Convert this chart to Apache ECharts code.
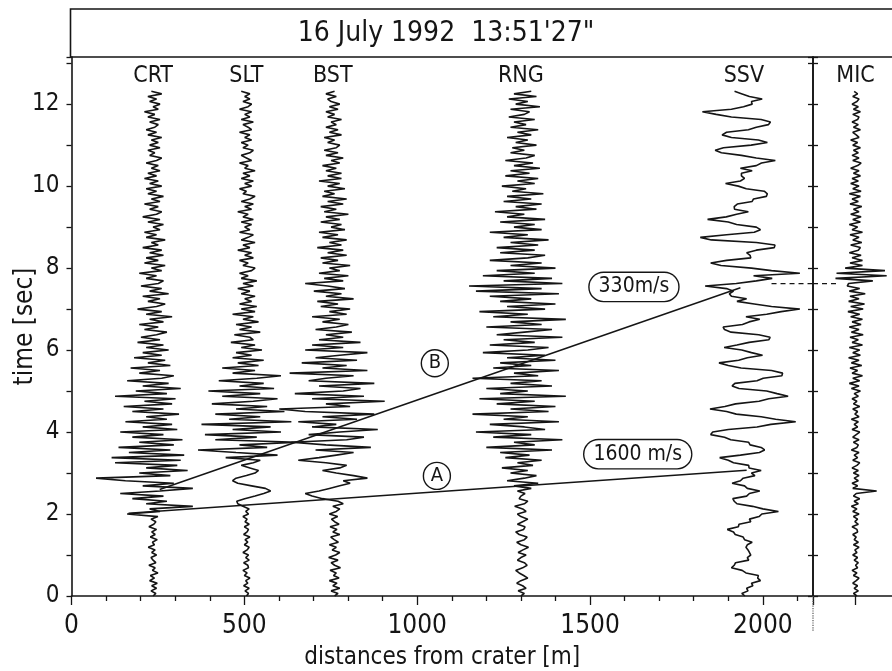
<!DOCTYPE html>
<html>
<head>
<meta charset="utf-8">
<script src="https://cdn.jsdelivr.net/npm/echarts@6/dist/echarts.min.js"></script>
<style>
  html, body { margin: 0; padding: 0; background: #ffffff; }
  #chart { width: 892px; height: 671px; }
</style>
</head>
<body>
<div id="chart"></div>
<script>
// Seismic traces of the 16 July 1992 explosion, plotted at each station's
// distance from the crater, with the microphone record in a side panel.

const SAMPLE_DT = 0.0625;            // seconds between samples
const TIME_MAX = 13.15;              // top of the time axis [s]
const MAIN_PANEL_MAX = 2145;         // right edge of the distance panel [m]
const MIC_PANEL_MAX = 2400;          // right edge of the microphone panel [m]

const stationNames = ['CRT', 'SLT', 'BST', 'RNG', 'SSV'];
const stationDistance = [236, 506, 756, 1300, 1945];   // m
const stationLabelTime = 12.69;

// Ground-velocity traces, horizontal offset from the station position [m]
const crtTrace = [
  0, 8, -6, 10, -4, 12, -10, 4, -8, 14, -2, 6, -12, 8, 0, -6, 10, -4, 6, -14, 4, -2, 12, -8, 6, -4, 10, -12, 2, 8, -6, 14,
  -75, 20, -10, 115, -20, 40, -60, 30, -95, 20, 115, -30, 60, -80, -165, 50, -40, 100, -20, 70, -110, 80, -120, 90,
  -70, 50, -100, 60, -40, 85, -60, 30, -95, 70, -30, 55, -80, 40, -20, 75, -60, 30, -85, 55, -25, 65, -110, 40,
  -50, 80, -30, 45, -75, 25, 60, -40, 20, -65, 50, -15, 35, -55, 25, -30, 45, -20, 30, -45,
  20, -35, 10, 40, -25, 15, -40, 30, -10, 55, -20, 25, -45, 10, 35, -15, 20, -30, 45, -10, 25, -35, 15, 30, -20, 10, -40, 25, -5, 35, -25, 15,
  -20, 30, -10, 25, -30, 15, -5, 35, -20, 10, -25, 20, 0, 30, -15, 20, -30, 10, 25, -10, 15, -25, 20, -5, 30, -15, 10, -20, 25, -10, 15, -25,
  10, -15, 20, -5, 15, -20, 10, 25, -10, 5, -15, 20, -10, 15, -5, 25, -15, 10, -20, 5, 15, -10, 20, -15, 5, -25, 15, 0, 20, -10, 10, -15, 25, -5
];
const sltTrace = [
  0, 6, -4, 8, -8, 4, -2, 10, -6, 2, -10, 6, 4, -8, 8, -2, 6, -10, 2, 8, -6, 4, -4, 10, -8, 2, 6, -6, 8, -4, 2, -10, 6, -2, 8,
  -10, -25, -28, -5, 25, 50, 70, 55, 15, -25, -40, -30, 0, 25, 35, 10, -15, 20,
  40, -60, 90, -30, -140, 60, -20, 150, -90, 30, -120, 100, -40, 70, -130, 130, -50, 40,
  -90, 110, -30, 60, -100, 20, 90, -70, 40, -110, 80, -20, 50, -80, 30, 100, -40, 25, -70,
  35, -25, 50, -40, 15, -30, 45, -15, 25, -45, 20, 10, -35, 40, -20, 15, -30, 35, -10, 20, -40, 25, -15, 30,
  -20, 15, -5, 25, -15, 10, -25, 20, -10, 30, -15, 5, -20, 15, 25, -10, 5, -20, 20, -5, 15, -25, 10, -10, 25, -15, 5, 20, -20, 10, -5, 15,
  -15, 20, -10, 5, -25, 15, -5, 20, -15, 10, 25, -10, 0, -20, 15, -5, 20, -15, 10, -10, 25, -5, 5, -20, 15, 0, -15, 10, 20, -10,
  5, -15, 15, -5, 10, -20, 15, 5, -10, 20, -15, 10, -5, 15, -20, 5, 15, -10, 10, -5, 10, -15
];
const bstTrace = [
  5, 15, -5, 20, 0, 12, -10, 18, 2, 10, -8, 22, 5, -5, 15, -12, 8, 20, -2, 10, -10, 16, 4, -6, 20, 0, 12, -8, 18, 5, -4, 14, -10, 10, 20, 0,
  30, 15, -30, -60, -80, -40, -10, 20, 50, 30, 100, 60, 10, -30, 20, 40, -20, -100, -40, 10,
  60, -50, 110, -20, -120, 40, 90, -70, 20, 130, -60, 10, -100, 70, -30, 120, -80, -155, 50, -20,
  150, -60, 90, -110, 30, 80, -40, 120, -70, -20, 60, -125, 100, -30, 40, -90, 70, -50, 20, 100, -80, 30, -60, 80,
  -40, 30, -20, 55, -50, 10, 45, -30, 20, -60, 40, -10, 50, -35, 15, -45, 60, -20, 25, -55, 35, -15, -80, 30, -25, 45, -40, 20, -10, 50, -30, 15,
  -35, 40, -15, 30, -45, 25, -10, 40, -30, 15, -40, 35, -5, 25, -35, 20, -20, 45, -25, 10, -35, 30, -15, 40, -30, 5, -25, 35, -15, 20, -40, 25,
  -15, 25, -20, 10, -30, 20, -5, 30, -20, 15, -25, 10, 20, -15, 5, -25, 25, -10, 15, -20, 10, -5, 25, -15, 5, -20, 15, -10, 20, -5, -15, 10, -20, 5
];
const rngTrace = [
  0, 10, -8, 15, 5, -12, 0, 20, 8, -5, -15, 5, 18, 10, -10, 0, 15, -8, 6, 22, 0, -12, 10, 18, -5, -15, 8, 12, -10, 5, 20, 0, -10, 15, 5, -18, 10, 20, -5, 0, 12, -10,
  30, -20, 50, -40, 10, 45, -30, 20, -55, 35, -10, 60, -45, 25,
  -60, 90, -100, 40, -20, 120, -80, 30, -130, 70, 10, -90, 110, -50, 20, -140, 80, -30, 100, -70,
  40, -120, 130, -60, 20, -100, 90, -30, 60, -140, 50, -20, 110, -80, 30, -60, 100, -40, 70, -110,
  20, 80, -90, 40, -50, 120, -70, 10, 90, -100, 60, -30, 130, -80, 20, -120, 70, -40, 100, -60,
  30, -90, 110, -130, 60, -150, 120, -50, 90, -110, 40, -70, 100, -30, 60, -90, 20, 70, -60, 40,
  -70, 50, -30, 80, -50, 20, -90, 60, -20, 40, -60, 70, -40, 10, -75, 45, -15, 60, -50, 30, -40, 65, -25, 15, -55, 40, -10, 50, -45, 25, -30, 55,
  -20, 35, -45, 15, 40, -30, 10, -25, 45, -15, 20, -40, 30, -10, 50, -30, 15, -20, 40, -35, 10, 25, -30, 55, -15, 20, -35, 45, -20, 30
];
const ssvTrace = [
  3, -6, 12, 8, 26, 22, 48, 40, 42, 6, -5, -36, -28, -24, 14, 10,
  20, 16, 12, 6, 10, 24, 2, -2, -25, -30, -48, -16, -14, 20, 16, 44,
  52, 100, 55, 25, -20, -28, -32, 8, 16, 46, 10, 2, -34, -10, -2, 32,
  22, 50, 15, 14, -30, -45, -70, -10, 45, 60, 50, 18, 14, -38, -56, -96,
  -90, -45, 38, 78, 150, 92, 50, -22, -50, -98, -55, -24, 44, 72, 128, 96,
  66, -14, -34, -26, 38, 56, 110, 112, 80, -8, -45, -72, -15, 10, 54, 22,
  -6, -57, -20, 15, 72, 76, 43, -37, -56, -60, -4, 15, 46, 6, 66, 108,
  162, 80, 30, -20, 8, -36, -42, -30, -50, -112, -22, 36, 82, 28, 162, 80,
  22, -66, -96, -50, 20, 18, 8, 36, 88, 90, 36, -94, -126, -50, 30, 48,
  36, -21, -45, -105, -51, -21, 13, -27, -28, -19, 24, 28, 65, 68, 59, 7,
  -16, -53, -10, 2, -7, -7, 24, -10, 36, 51, 91, 36, -7, -65, -83, -59,
  21, 68, 42, -36, -63, -50, 13, 36, 71, 77, 50, -36, -80, -120, -36, -1,
  24, 22, 53, 16, -5, -27
];
const stationTraces = [crtTrace, sltTrace, bstTrace, rngTrace, ssvTrace];

// Microphone record
const micName = 'MIC';
const micPosition = 2268;
const micTrace = [
  4, -6, 8, -4, 6, -8, 2, 10, -6, 4, -10, 6, 0, 8, -4, 6, -8, 4, -2, 10, -6, 8, -4, 2, -8, 6, 4, -10, 8, -2, 6, -6,
  10, -8, 4, -12, 8, -4, 12, -6, 2, 61, -8, 6, -10, 8, -4, 10,
  -6, 8, -10, 4, 12, -8, 6, -4, 10, -12, 4, 8, -6, 10, -8, 2, 12, -10, 6, -4, 8, -12, 10, -2, 6, -8, 12, -6, 4, -10, 8, -4,
  14, -12, 10, -18, 12, -8, 20, -10, 6, -16, 18, -12, 10, -20, 14, -8, 12, -18, 20, -10, 8, -16, 22, -12, 10, -18, 16, -10, 20, -14, 12, -22,
  22, -14, 26, -20, 10, -16, 28, -18, 12, -24, -20, 50, -58, 90, -55, 85, -30, 20,
  -16, 20, -10, 16, -18, 8, 14, -14, 18, -8, 10, -16, 20, -10, 6, -18, 14, -8, 16, -14, 10, -6, 18, -16, 8, -10, 14, -18, 16, -8, 10, -14,
  8, -10, 14, -6, 10, -14, 6, 16, -8, 10, -10, 8, -6, 14, -8, 6, -14, 10, 2, -8, 14, -6, 8, -10, 6, 10, -8, 14, -6, 8, -10, 4, 10, -8, 6, -4
];

// Arrival lines with their apparent velocities
const arrivalA = [[165, 2.02], [1953, 3.07]];
const arrivalB = [[255, 2.6], [1935, 7.52]];
const phaseNames = ['A', 'B'];
const phaseLabelAt = [[1057, 2.93], [1051, 5.68]];
const speedLabels = ['1600 m/s', '330m/s'];
const speedLabelAt = [[1638, 3.46], [1627, 7.54]];

// Air-wave arrival carried across to the microphone panel
const airwaveTime = 7.62;
const airwaveStart = 2025;
const airwaveEnd = 2215;

const TITLE = '16 July 1992  13:51\'27"';
const FONT = "'DejaVu Sans Condensed', 'DejaVu Sans', sans-serif";
const INK = '#151515';

const chart = echarts.init(document.getElementById('chart'), null, { renderer: 'canvas' });

function traceSeries(base, values, xIdx, yIdx) {
  return {
    type: 'line', xAxisIndex: xIdx, yAxisIndex: yIdx,
    data: values.map((v, i) => [base + v, i * SAMPLE_DT]),
    symbol: 'none', silent: true, z: 2,
    lineStyle: { color: INK, width: 1.6, opacity: 1 }
  };
}

const axisLineStyle = { color: INK, width: 1.6 };
const tickStyle = { color: INK, width: 1.3 };
const textLabel = (size, extra) => Object.assign({
  show: true, position: 'inside', formatter: p => p.name,
  color: INK, fontSize: size, fontFamily: FONT, opacity: 1, textBorderWidth: 0
}, extra || {});

const series = [];
stationTraces.forEach((tr, k) => series.push(traceSeries(stationDistance[k], tr, 0, 0)));
series.push(traceSeries(micPosition, micTrace, 1, 2));

// station names above the traces
series.push({
  type: 'scatter', xAxisIndex: 0, yAxisIndex: 0, symbolSize: 0, silent: true,
  itemStyle: { opacity: 1 },
  data: stationNames.map((n, k) => ({ value: [stationDistance[k], stationLabelTime], name: n })),
  label: textLabel(23)
});
series.push({
  type: 'scatter', xAxisIndex: 1, yAxisIndex: 2, symbolSize: 0, silent: true,
  itemStyle: { opacity: 1 },
  data: [{ value: [micPosition, stationLabelTime], name: micName }],
  label: textLabel(23)
});

// arrival lines
[arrivalA, arrivalB].forEach(seg => series.push({
  type: 'line', xAxisIndex: 0, yAxisIndex: 0, data: seg, symbol: 'none', silent: true, z: 3,
  lineStyle: { color: INK, width: 1.5 }
}));

// air-wave marker
series.push({
  type: 'line', xAxisIndex: 0, yAxisIndex: 0, symbol: 'none', silent: true, z: 3,
  data: [[airwaveStart, airwaveTime], [MAIN_PANEL_MAX, airwaveTime]],
  lineStyle: { color: INK, width: 1.3, type: [5, 4] }
});
series.push({
  type: 'line', xAxisIndex: 1, yAxisIndex: 2, symbol: 'none', silent: true, z: 3,
  data: [[MAIN_PANEL_MAX, airwaveTime], [airwaveEnd, airwaveTime]],
  lineStyle: { color: INK, width: 1.3, type: [5, 4] }
});

// panel divider continuing below the time axis
series.push({
  type: 'line', xAxisIndex: 0, yAxisIndex: 0, symbol: 'none', silent: true, clip: false,
  data: [[MAIN_PANEL_MAX, 0], [MAIN_PANEL_MAX, -0.85]],
  lineStyle: { color: '#555', width: 1.2, type: 'dotted' }
});

// phase circles
series.push({
  type: 'scatter', xAxisIndex: 0, yAxisIndex: 0, symbol: 'circle', symbolSize: 27, silent: true, z: 5,
  data: phaseNames.map((n, k) => ({ value: phaseLabelAt[k], name: n })),
  itemStyle: { color: '#ffffff', borderColor: INK, borderWidth: 1.4, opacity: 1 },
  label: textLabel(20)
});

// velocity boxes
series.push({
  type: 'scatter', xAxisIndex: 0, yAxisIndex: 0, symbolSize: 0, silent: true, z: 5,
  itemStyle: { opacity: 1 },
  data: speedLabels.map((n, k) => ({ value: speedLabelAt[k], name: n })),
  label: textLabel(21, {
    backgroundColor: '#ffffff', borderColor: INK, borderWidth: 1.4, borderRadius: 14, padding: [4, 9, 3, 9]
  })
});

const option = {
  backgroundColor: '#ffffff',
  animation: false,
  title: {
    text: TITLE, left: 'center', top: 15,
    textStyle: { fontFamily: FONT, fontSize: 28, fontWeight: 'normal', color: INK }
  },
  graphic: [{
    type: 'rect', silent: true,
    shape: { x: 70.5, y: 9, width: 840, height: 48 },
    style: { fill: 'none', stroke: INK, lineWidth: 1.6 }
  }],
  grid: [
    { left: 71.5, top: 57, width: 741.5, height: 539, outerBoundsMode: 'none', containLabel: false },
    { left: 813, top: 57, width: 88.2, height: 539, outerBoundsMode: 'none', containLabel: false }
  ],
  xAxis: [
    {
      gridIndex: 0, type: 'value', min: 0, max: MAIN_PANEL_MAX, interval: 500,
      axisLine: { show: true, onZero: false, lineStyle: axisLineStyle },
      axisTick: { show: true, length: 9, lineStyle: tickStyle },
      minorTick: { show: true, splitNumber: 5, length: 5, lineStyle: tickStyle },
      splitLine: { show: false },
      axisLabel: {
        fontFamily: FONT, fontSize: 26, color: INK, margin: 17,
        formatter: v => (v <= 2000 ? String(v) : '')
      },
      name: 'distances from crater [m]', nameLocation: 'middle', nameGap: 50, nameMoveOverlap: false,
      nameTextStyle: { fontFamily: FONT, fontSize: 24, color: INK }
    },
    {
      gridIndex: 1, type: 'value', min: MAIN_PANEL_MAX, max: MIC_PANEL_MAX,
      axisLine: { show: true, onZero: false, lineStyle: axisLineStyle },
      axisTick: { show: true, length: 9, customValues: [micPosition], lineStyle: tickStyle },
      axisLabel: { show: false },
      splitLine: { show: false }
    }
  ],
  yAxis: [
    {
      gridIndex: 0, type: 'value', min: 0, max: TIME_MAX, interval: 2, position: 'left',
      axisLine: { show: true, onZero: false, lineStyle: axisLineStyle },
      axisTick: { show: true, length: 5, lineStyle: tickStyle },
      minorTick: { show: true, splitNumber: 2, length: 5, lineStyle: tickStyle },
      splitLine: { show: false },
      axisLabel: {
        fontFamily: FONT, fontSize: 24, color: INK, margin: 12,
        formatter: v => (v <= 12 ? String(v) : '')
      },
      name: 'time [sec]', nameLocation: 'middle', nameGap: 33, nameRotate: 90, nameMoveOverlap: false,
      nameTextStyle: { fontFamily: FONT, fontSize: 26, color: INK }
    },
    {
      gridIndex: 0, type: 'value', min: 0, max: TIME_MAX, interval: 1, position: 'right',
      axisLine: { show: true, onZero: false, lineStyle: axisLineStyle },
      axisTick: { show: true, inside: true, length: 5, lineStyle: tickStyle },
      axisLabel: { show: false },
      splitLine: { show: false }
    },
    {
      gridIndex: 1, type: 'value', min: 0, max: TIME_MAX, interval: 1, position: 'left',
      axisLine: { show: true, onZero: false, lineStyle: axisLineStyle },
      axisTick: { show: true, inside: true, length: 5, lineStyle: tickStyle },
      axisLabel: { show: false },
      splitLine: { show: false }
    }
  ],
  series: series
};

chart.setOption(option);
</script>
</body>
</html>
